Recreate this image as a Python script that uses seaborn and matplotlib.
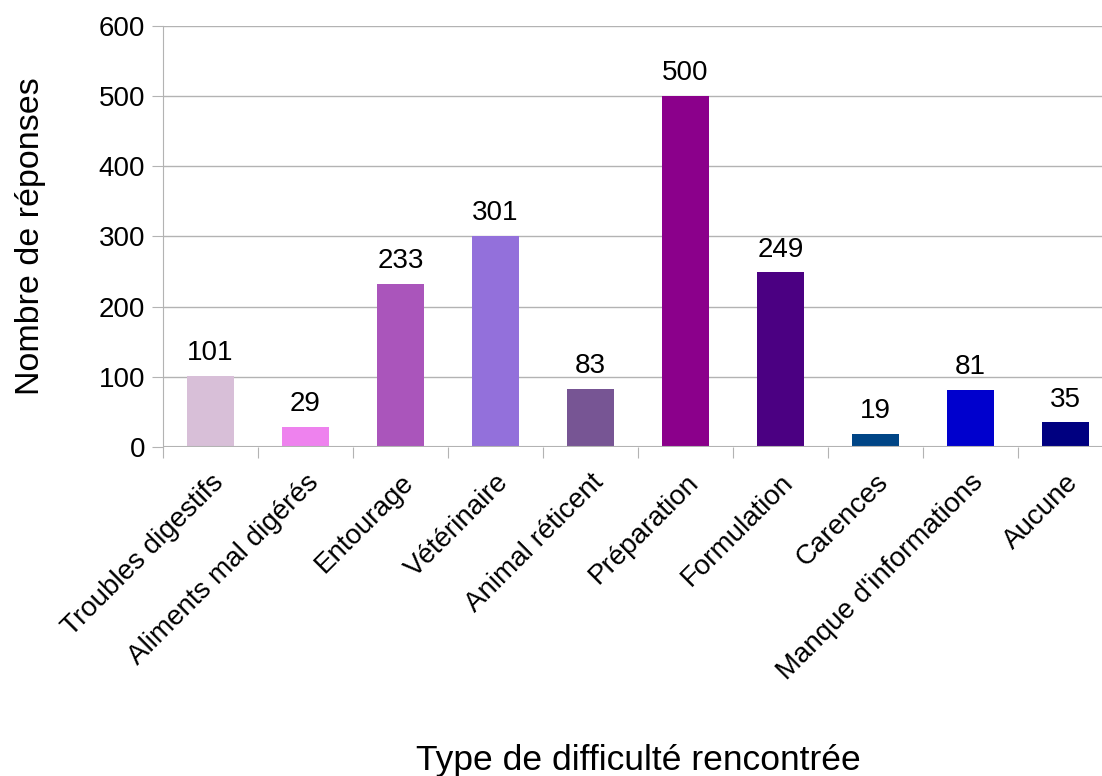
import matplotlib
matplotlib.use("Agg")
import matplotlib.pyplot as plt
import seaborn as sns
import pandas as pd

# Data
categories = ["Troubles digestifs", "Aliments mal digérés", "Entourage", "Vétérinaire",
              "Animal réticent", "Préparation", "Formulation", "Carences",
              "Manque d'informations", "Aucune"]
counts = [101, 29, 233, 301, 83, 500, 249, 19, 81, 35]
colors = ["#d8bfd8", "#ee82ee", "#aa55bb", "#9370db", "#775594",
          "#8b008b", "#4b0082", "#004586", "#0000cd", "#000080"]

df = pd.DataFrame({"categorie": categories, "reponses": counts})

sns.set_style("white")
plt.rcParams['font.family'] = ['Liberation Sans', 'DejaVu Sans']
plt.rcParams['text.color'] = 'black'
plt.rcParams['axes.labelcolor'] = 'black'
plt.rcParams['xtick.labelcolor'] = 'black'
plt.rcParams['ytick.labelcolor'] = 'black'

fig = plt.figure(figsize=(11.02, 7.76), dpi=100)
ax = fig.add_axes([163 / 1102, 1 - 447 / 776, 950 / 1102, 421 / 776])

sns.barplot(data=df, x="categorie", y="reponses", hue="categorie", palette=colors,
            width=0.5, legend=False, ax=ax, saturation=1, linewidth=0)

ax.set_xlim(-0.5, 9.5)
ax.set_ylim(0, 600)
ax.set_yticks(range(0, 601, 100))
ax.yaxis.grid(True, color="#b3b3b3", linewidth=1)
ax.set_axisbelow(True)

for side in ["top", "right", "bottom"]:
    ax.spines[side].set_visible(False)
ax.spines["left"].set_color("#b3b3b3")
ax.axhline(0, color="#b3b3b3", linewidth=1.5, zorder=1)

# ticks between categories on x
ax.set_xticks([i - 0.5 for i in range(10)], minor=False)
ax.set_xticklabels([])
ax.set_xticks(range(10), minor=True)
ax.set_xticklabels(categories, minor=True, rotation=45, ha="right",
                   rotation_mode="anchor", fontsize=20)
ax.tick_params(axis="x", which="major", length=8, color="#b3b3b3", direction="out", bottom=True)
ax.tick_params(axis="x", which="minor", length=0, pad=16)
ax.tick_params(axis="y", length=8, color="#b3b3b3", direction="out", left=True, labelsize=20, pad=5)

for container in ax.containers:
    ax.bar_label(container, fmt="%d", fontsize=20, padding=7)

ax.set_xlabel("Type de difficulté rencontrée", fontsize=25.5)
ax.xaxis.set_label_coords(0.5, -0.705)
ax.set_ylabel("Nombre de réponses", fontsize=24.5)
ax.yaxis.set_label_coords(-0.123, 0.5)

plt.savefig("out.png", dpi=100)
